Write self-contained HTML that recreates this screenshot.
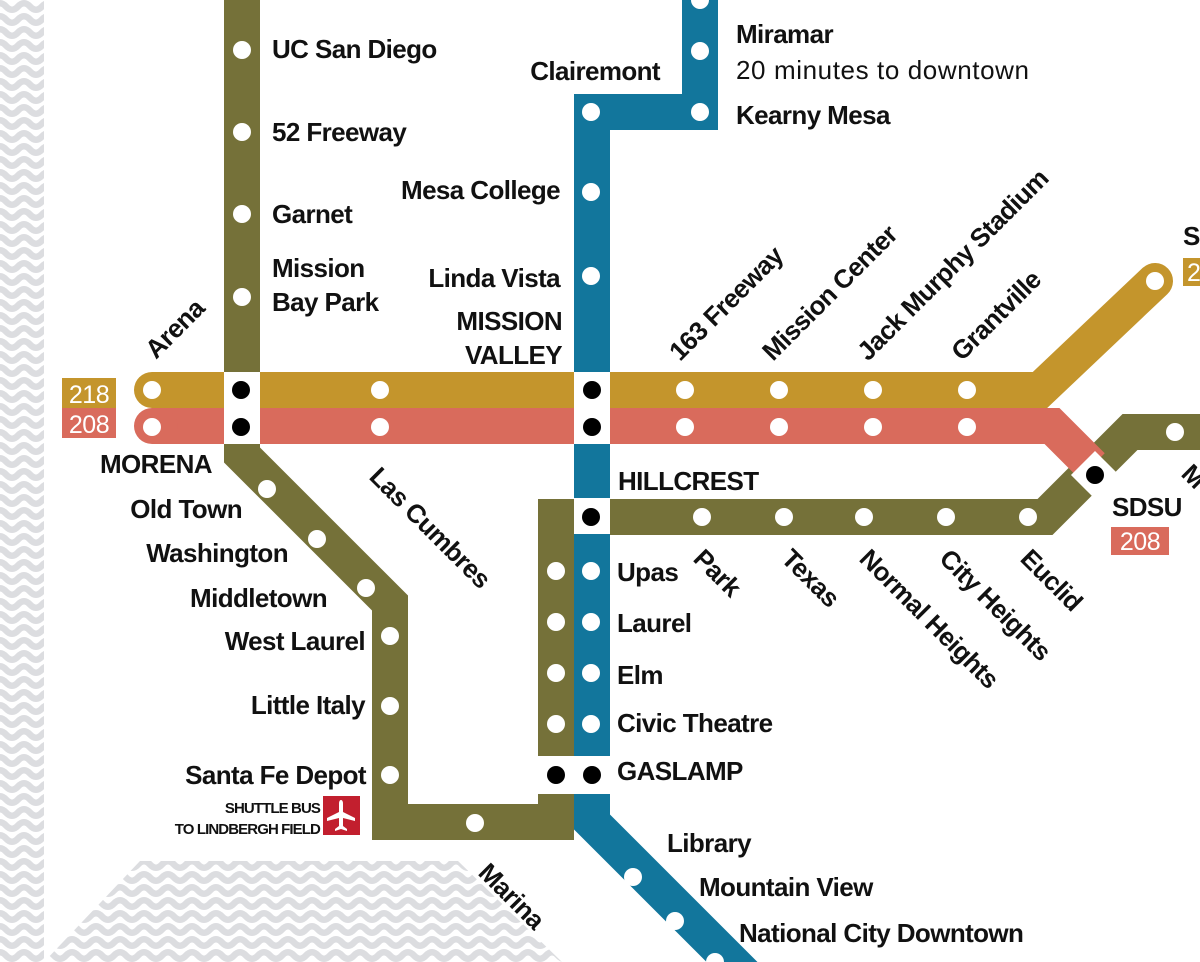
<!DOCTYPE html>
<html><head><meta charset="utf-8"><style>
html,body{margin:0;padding:0;background:#fff;}
svg{display:block}
text{font-family:"Liberation Sans",sans-serif;font-weight:bold;font-size:26px;letter-spacing:-0.6px;fill:#111}
.r{text-anchor:end}
.w{fill:#fff;font-weight:normal;letter-spacing:-0.5px;font-size:25px}
</style></head><body>
<svg width="1200" height="962" viewBox="0 0 1200 962" xmlns="http://www.w3.org/2000/svg">
<defs>
<pattern id="wv" width="24" height="13" patternUnits="userSpaceOnUse">
<rect width="24" height="13" fill="#fff"/>
<path d="M-6,6.5 Q0,0 6,6.5 T18,6.5 T30,6.5" fill="none" stroke="#dcdde0" stroke-width="6.5"/>
</pattern>
</defs>
<rect x="0" y="0" width="44" height="962" fill="url(#wv)"/>
<polygon points="140,861 458,861 562,962 44,962" fill="url(#wv)"/>

<path d="M242,0 V455 L390,603 V822 H556 V517 H1045 L1130,432 H1200" fill="none" stroke="#757139" stroke-width="36" stroke-linejoin="miter"/>
<path d="M700,-10 V112 H592 V822 L760,990" fill="none" stroke="#12769c" stroke-width="36" stroke-linejoin="miter"/>
<path d="M152,390 H1040 L1155,281" fill="none" stroke="#c4952c" stroke-width="36" stroke-linecap="round" stroke-linejoin="miter"/>
<path d="M152,426 H1052 L1092,466" fill="none" stroke="#d96b5c" stroke-width="36" stroke-linejoin="miter"/>
<path d="M152,426 H160" fill="none" stroke="#d96b5c" stroke-width="36" stroke-linecap="round"/>

<rect x="224" y="372" width="36" height="72" fill="#fff"/>
<rect x="574" y="372" width="36" height="72" fill="#fff"/>
<rect x="574" y="498" width="36" height="36" fill="#fff"/>
<rect x="538" y="756" width="72" height="38" fill="#fff"/>
<rect x="1078" y="458" width="34" height="34" fill="#fff" transform="rotate(45 1095 475)"/>
<g fill="#000">
<circle cx="241" cy="390" r="9"/><circle cx="241" cy="427" r="9"/>
<circle cx="592" cy="390" r="9"/><circle cx="592" cy="427" r="9"/>
<circle cx="591" cy="517" r="9"/>
<circle cx="556" cy="775" r="9"/><circle cx="592" cy="775" r="9"/>
<circle cx="1095" cy="475" r="9"/>
</g>
<g fill="#fff">
<circle cx="242" cy="50" r="9"/><circle cx="242" cy="132" r="9"/><circle cx="242" cy="214" r="9"/><circle cx="242" cy="297" r="9"/>
<circle cx="267" cy="489" r="9"/><circle cx="317" cy="539" r="9"/><circle cx="366" cy="588" r="9"/>
<circle cx="390" cy="636" r="9"/><circle cx="390" cy="706" r="9"/><circle cx="390" cy="775" r="9"/>
<circle cx="475" cy="823" r="9"/>
<circle cx="556" cy="571" r="9"/><circle cx="556" cy="622" r="9"/><circle cx="556" cy="673" r="9"/><circle cx="556" cy="724" r="9"/>
<circle cx="700" cy="0" r="9"/><circle cx="700" cy="51" r="9"/><circle cx="700" cy="112" r="9"/>
<circle cx="591" cy="112" r="9"/><circle cx="591" cy="192" r="9"/><circle cx="591" cy="276" r="9"/>
<circle cx="591" cy="571" r="9"/><circle cx="591" cy="622" r="9"/><circle cx="591" cy="673" r="9"/><circle cx="591" cy="724" r="9"/>
<circle cx="633" cy="877" r="9"/><circle cx="675" cy="921" r="9"/><circle cx="715" cy="962" r="9"/>
<circle cx="152" cy="390" r="9"/><circle cx="380" cy="390" r="9"/><circle cx="685" cy="390" r="9"/><circle cx="779" cy="390" r="9"/><circle cx="873" cy="390" r="9"/><circle cx="967" cy="390" r="9"/>
<circle cx="1155" cy="281" r="9"/>
<circle cx="152" cy="427" r="9"/><circle cx="380" cy="427" r="9"/><circle cx="685" cy="427" r="9"/><circle cx="779" cy="427" r="9"/><circle cx="873" cy="427" r="9"/><circle cx="967" cy="427" r="9"/>
<circle cx="702" cy="517" r="9"/><circle cx="784" cy="517" r="9"/><circle cx="864" cy="517" r="9"/><circle cx="946" cy="517" r="9"/><circle cx="1028" cy="517" r="9"/>
<circle cx="1175" cy="432" r="9"/>
</g>

<rect x="62" y="378" width="54" height="30" fill="#c4952c"/>
<rect x="62" y="408" width="54" height="30" fill="#d96b5c"/>
<text x="89" y="403" class="w" text-anchor="middle">218</text>
<text x="89" y="433" class="w" text-anchor="middle">208</text>
<rect x="1111" y="527" width="58" height="28" fill="#d96b5c"/>
<text x="1140" y="550" class="w" text-anchor="middle">208</text>
<rect x="1183" y="258" width="30" height="28" fill="#c4952c"/>
<text x="1187" y="281" class="w">2</text>
<text x="1183" y="245">S</text>

<rect x="323" y="796" width="37" height="39" fill="#c21f2e"/>
<path d="M341,800 q2,0 2,4 v8 l12,6 v3 l-12,-3 v8 l4,3 v2 l-6,-2 l-6,2 v-2 l4,-3 v-8 l-12,3 v-3 l12,-6 v-8 q0,-4 2,-4z" fill="#fff"/>
<text x="320" y="813" class="r" style="font-size:15px;letter-spacing:-0.9px">SHUTTLE BUS</text>
<text x="320" y="834" class="r" style="font-size:15px;letter-spacing:-0.9px">TO LINDBERGH FIELD</text>

<text x="272" y="58">UC San Diego</text>
<text x="272" y="141">52 Freeway</text>
<text x="272" y="223">Garnet</text>
<text x="272" y="277">Mission</text>
<text x="272" y="311">Bay Park</text>
<text x="660" y="80" class="r">Clairemont</text>
<text x="736" y="43">Miramar</text>
<text x="736" y="79" style="font-weight:normal;letter-spacing:0.6px">20 minutes to downtown</text>
<text x="736" y="124">Kearny Mesa</text>
<text x="560" y="199" class="r">Mesa College</text>
<text x="560" y="287" class="r">Linda Vista</text>
<text x="562" y="330" class="r">MISSION</text>
<text x="562" y="364" class="r">VALLEY</text>
<text x="100" y="473">MORENA</text>
<text x="242" y="518" class="r">Old Town</text>
<text x="288" y="562" class="r">Washington</text>
<text x="327" y="607" class="r">Middletown</text>
<text x="365" y="650" class="r">West Laurel</text>
<text x="365" y="714" class="r">Little Italy</text>
<text x="366" y="784" class="r">Santa Fe Depot</text>
<text x="618" y="490">HILLCREST</text>
<text x="1112" y="516">SDSU</text>
<text x="617" y="581">Upas</text>
<text x="617" y="632">Laurel</text>
<text x="617" y="684">Elm</text>
<text x="617" y="732">Civic Theatre</text>
<text x="617" y="780">GASLAMP</text>
<text x="667" y="852">Library</text>
<text x="699" y="896">Mountain View</text>
<text x="739" y="942">National City Downtown</text>

<text transform="translate(156,360) rotate(-45)">Arena</text>
<text transform="translate(680,362) rotate(-45)">163 Freeway</text>
<text transform="translate(773,362) rotate(-45)">Mission Center</text>
<text transform="translate(868,362) rotate(-45)">Jack Murphy Stadium</text>
<text transform="translate(962,362) rotate(-45)">Grantville</text>

<text transform="translate(368,478) rotate(45)">Las Cumbres</text>
<text transform="translate(692,560) rotate(45)">Park</text>
<text transform="translate(780,560) rotate(45)">Texas</text>
<text transform="translate(858,560) rotate(45)">Normal Heights</text>
<text transform="translate(938,560) rotate(45)">City Heights</text>
<text transform="translate(1019,560) rotate(45)">Euclid</text>
<text transform="translate(1180,475) rotate(45)">M</text>
<text transform="translate(477,874) rotate(45)">Marina</text>
</svg>
</body></html>
